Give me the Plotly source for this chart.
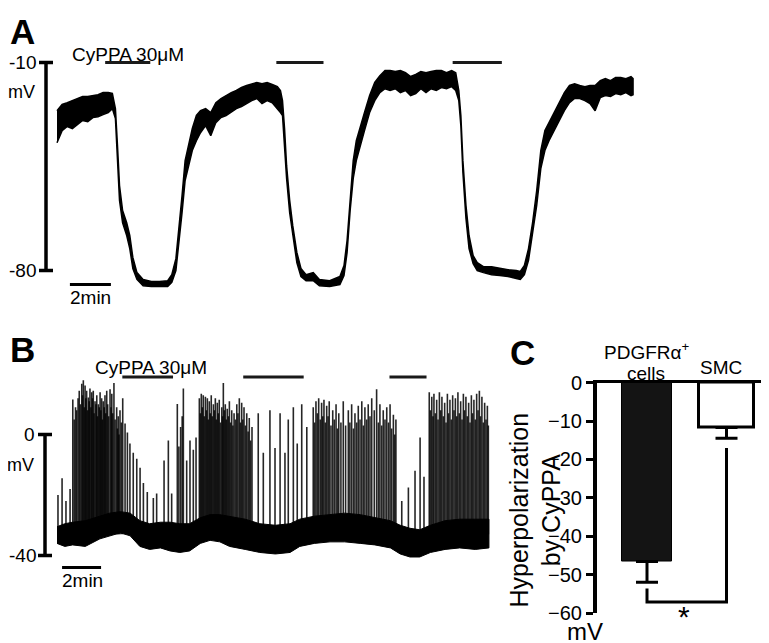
import plotly.graph_objects as go

W, H = 769, 643
FONT = "Liberation Sans, Arial, sans-serif"

# ---- Panel A: PDGFRa+ cell membrane potential (time in min, mV) ----
a_time = [0, 0.25, 0.5, 0.75, 1.0, 1.25, 1.5, 1.75, 2.0, 2.25, 2.5, 2.7,
          2.85, 2.95, 3.05, 3.2, 3.4, 3.55, 3.7, 3.9, 4.2, 4.6, 5.0, 5.4, 5.6, 5.8, 5.95, 6.1, 6.25, 6.4, 6.6, 6.8,
          7.0, 7.25, 7.5, 7.75, 8.0, 8.25, 8.5, 8.75, 9.0, 9.25, 9.5, 9.75, 10.0, 10.25, 10.5, 10.75, 10.9,
          11.0, 11.1, 11.2, 11.35, 11.5, 11.7, 11.9, 12.15, 12.5, 12.8, 13.3, 13.8, 14.0, 14.15, 14.3, 14.45, 14.6, 14.8,
          15.0, 15.25, 15.5, 15.75, 16.0, 16.25, 16.5, 16.75, 17.0, 17.25, 17.5, 17.75, 18.0, 18.25, 18.5, 18.75, 19.0, 19.25, 19.45,
          19.6, 19.7, 19.8, 19.95, 20.1, 20.3, 20.5, 20.8, 21.2, 21.6, 22.0, 22.4, 22.6, 22.8, 23.0, 23.2, 23.4, 23.6, 23.8,
          24.0, 24.25, 24.5, 24.75, 25.0, 25.25, 25.5, 25.75, 26.0, 26.25, 26.5, 26.75, 27.0, 27.25, 27.5, 27.75, 28.0, 28.1]
a_upper = [-26.2, -24.1, -23.5, -22.8, -22.1, -21.4, -21.4, -21.1, -20.8, -20.1, -20.1, -20.4,
           -25.5, -37.9, -51.4, -59.8, -63.9, -68.2, -75.6, -80.7, -83.0, -83.7, -83.7, -83.4, -81.4, -76.0, -65.9, -54.8, -43.0, -37.9, -32.2, -27.8,
           -26.2, -25.5, -26.8, -23.5, -22.1, -21.1, -20.1, -19.4, -18.4, -17.7, -17.1, -16.7, -17.1, -16.7, -17.4, -18.1, -19.4,
           -22.8, -32.2, -44.7, -56.4, -64.9, -73.9, -79.3, -81.4, -80.7, -83.0, -83.4, -82.0, -78.3, -69.9, -54.8, -43.0, -36.3, -31.2,
           -26.8, -21.1, -16.7, -14.4, -12.7, -12.7, -13.0, -12.7, -13.4, -14.7, -14.0, -13.0, -13.4, -13.0, -12.7, -12.7, -13.4, -12.7, -13.4,
           -19.4, -27.8, -43.0, -58.1, -68.2, -75.0, -77.3, -78.7, -78.7, -79.3, -79.7, -80.0, -80.3, -78.3, -72.6, -63.9, -53.1, -39.6, -32.9,
           -30.2, -26.8, -23.5, -20.1, -17.7, -17.1, -17.7, -18.1, -17.7, -17.7, -16.1, -15.4, -16.1, -15.0, -15.0, -15.4, -14.7, -15.4]
a_lower = [-37.0, -32.9, -31.5, -32.2, -30.9, -29.5, -29.9, -28.5, -28.2, -27.5, -26.8, -25.5,
           -28.8, -43.0, -56.4, -63.9, -68.2, -72.6, -79.3, -83.0, -85.1, -85.4, -85.4, -85.4, -84.0, -80.0, -71.6, -60.5, -49.7, -45.7, -39.6, -36.3,
           -33.6, -31.2, -34.6, -30.2, -28.5, -27.8, -26.8, -25.5, -24.8, -23.8, -22.8, -22.1, -23.8, -22.8, -23.5, -25.5, -26.8,
           -27.8, -36.3, -49.0, -60.5, -68.6, -77.3, -82.0, -83.4, -83.4, -85.1, -85.4, -84.7, -81.7, -74.0, -59.8, -49.0, -43.0, -37.9,
           -32.9, -26.8, -22.8, -20.1, -18.8, -19.4, -18.8, -20.1, -19.4, -21.1, -20.4, -18.8, -20.1, -18.8, -19.4, -18.4, -18.8, -18.1, -19.4,
           -22.8, -31.2, -47.0, -62.5, -72.6, -77.7, -80.0, -80.7, -81.4, -81.7, -82.0, -82.7, -83.0, -81.4, -76.6, -68.2, -58.1, -45.7, -39.6,
           -36.3, -32.9, -29.5, -26.2, -23.5, -22.1, -22.1, -22.8, -23.8, -26.2, -21.8, -21.1, -21.4, -20.4, -20.8, -20.1, -21.1, -20.8]
a_drug_on = [2.35, 10.7, 19.3]
a_drug_off = [4.55, 13.0, 21.7]
a_drug_level = -10

# ---- Panel B: SMC membrane potential (baseline band + spikes) ----
b_time = [0, 0.4, 0.8, 1.45, 2.2, 2.7, 3.25, 3.75, 4.25, 4.75, 5.3, 5.8, 6.3, 6.8, 7.35, 7.85, 8.35, 8.85, 9.65, 10.4,
          11.2, 11.95, 12.45, 13.2, 14.0, 14.75, 15.55, 16.3, 17.1, 17.6, 18.1, 18.6, 19.15, 19.9, 20.65, 21.45, 22.15]
b_upper = [-30.5, -29.5, -29, -28.5, -27, -26, -25.5, -26, -28.5, -29.5, -29, -29, -29.5, -29.5, -27.5, -26.5, -26.5, -27, -28, -29.5,
           -30, -29.5, -28, -27, -26.5, -26, -26.5, -27.5, -28.5, -30, -31, -31.5, -30, -28.5, -28, -28, -28]
b_lower = [-36, -37, -36.5, -37, -34.5, -33.5, -32.5, -33.5, -37, -38, -37.5, -38.5, -39, -38.5, -36, -35, -35.5, -37, -38, -39,
           -39.5, -39, -37, -36, -35.5, -35.5, -36, -36.5, -37.5, -39.5, -40.5, -40.5, -39, -38, -37.5, -38, -37.5]
spike_time = [0.05, 0.26, 0.46, 0.67,
              0.81, 1.01, 1.14, 1.27, 1.35, 1.44, 1.52, 1.61, 1.69, 1.78, 1.86, 1.95, 2.04, 2.12, 2.21, 2.29, 2.37, 2.46,
              2.55, 2.72, 2.81, 2.92, 3.06, 3.14, 3.23, 3.37, 3.49, 3.61, 3.74, 3.91, 4.09, 4.26, 4.43, 4.63, 4.94, 5.11,
              5.49, 5.71, 5.88,
              6.17, 6.34, 6.48, 6.65, 6.82, 6.99, 7.13,
              7.30, 7.40, 7.50, 7.61, 7.71, 7.81, 7.91, 8.02, 8.12, 8.22, 8.32, 8.45, 8.53, 8.63, 8.73, 8.84, 8.96, 9.08,
              9.22, 9.35, 9.47, 9.59, 9.73, 9.86, 10.0,
              10.32, 10.58, 10.92, 11.18, 11.44, 11.69, 11.86, 12.12, 12.32, 12.55, 12.81,
              13.14, 13.28, 13.42, 13.57, 13.69, 13.83, 13.96, 14.14, 14.31, 14.45, 14.68, 14.94, 15.11, 15.28, 15.45,
              15.63, 15.79, 15.96, 16.14, 16.39, 16.56, 16.73, 16.91, 17.08, 17.25, 17.38,
              17.68, 18.02, 18.36, 18.62, 18.82,
              19.09, 19.22, 19.33, 19.47, 19.61, 19.74, 19.88, 20.02, 20.15, 20.29, 20.43, 20.56, 20.70, 20.84, 20.97,
              21.11, 21.25, 21.38, 21.52, 21.66, 21.79, 21.93, 22.07]
spike_peak = [-20, -14.5, -22, -18,
              11.6, 8, 14.5, 16.8, 17.9, 16.2, 14.5, 12.2, 15.2, 14, 14.5, 11, 13, 10, 14, 12, 11, 13,
              14.5, 15, 13.5, 17, 9, 6, 8, 12, 3.6, 0.7, -3, -6, -8, -11, -16, -19, -21, -19.5,
              -8.6, -2, -19.5,
              10.1, 2.5, 15.2, -8.6, -2, -5, -1,
              12, 13.5, 13, 12.5, 12, 11, 13, 10, 12, 10.5, 11.5, 9, 17, 10, 8.5, 11, 8, 7,
              10, 12, 10.5, 9, 7, 5.5, 2.5,
              7, -6, 8, -4.5, 7, -6, 5, 9, -3, 10, 2.5,
              9, 11, 12, 10.5, 11.5, 9.5, 11, 8, 10, 7, 11, 8, 10, 7, 9.5,
              11, 9, 10, 12, 15, 10, 8, 9, 10, 6.5, 5,
              -22, -17.5, -12, -1, -14,
              14, 12.5, 13.5, 11.5, 14, 12.5, 10.5, 13.5, 11.5, 13, 12, 14, 11, 13.5, 12.5,
              10.5, 13, 11.5, 13.5, 14.5, 12.5, 10.5, 9.5]
# smaller spikes packed between the tall ones inside the bursts
small_spike_time = [0.88, 0.95, 1.08, 1.2, 1.31, 1.4, 1.48, 1.57, 1.65, 1.74, 1.82, 1.9, 2.0, 2.08, 2.17, 2.25,
                    2.33, 2.42, 2.5, 2.6, 2.65, 2.77, 2.86, 2.98, 3.1, 3.18, 3.3,
                    6.25, 6.42,
                    7.35, 7.45, 7.55, 7.66, 7.76, 7.86, 7.96, 8.07, 8.17, 8.27, 8.38, 8.49, 8.58, 8.68, 8.79, 8.9,
                    9.02, 9.15, 9.28, 9.41, 9.53, 9.66, 9.8, 9.93,
                    13.21, 13.35, 13.5, 13.63, 13.76, 13.9, 14.05, 14.22, 14.38, 14.56, 14.8, 15.02, 15.2, 15.37,
                    15.54, 15.71, 15.88, 16.05, 16.27, 16.48, 16.65, 16.82, 17.0, 17.16, 17.32,
                    19.15, 19.28, 19.4, 19.54, 19.68, 19.81, 19.95, 20.08, 20.22, 20.36, 20.5, 20.63, 20.77, 20.9,
                    21.04, 21.18, 21.31, 21.45, 21.59, 21.72, 21.86, 22.0, 22.12]
small_spike_peak = [5, 9, 12, 10, 13, 9, 12, 8, 11, 9, 12, 7, 10, 6, 9, 8,
                    5, 9, 7, 10, 6, 9, 7, 5, 2, 0, 4,
                    -4, 6,
                    7, 9, 6, 8, 5, 7, 6, 8, 5, 7, 4, 6, 8, 5, 6, 4,
                    3, 5, 7, 4, 5, 3, 1, -2,
                    4, 7, 5, 6, 4, 6, 3, 5, 2, 4, 3, 4, 2, 4,
                    5, 3, 5, 6, 8, 4, 3, 5, 4, 2, 0,
                    8, 6, 7, 5, 8, 6, 4, 7, 5, 8, 6, 7, 5, 8,
                    6, 4, 7, 5, 8, 6, 4, 5, 3]
spike_foot = -33
b_drug_on = [3.35, 9.55, 17.05]
b_drug_off = [5.95, 12.65, 18.95]
b_drug_level = 19

# ---- Panel C: hyperpolarization by CyPPA (mean, SEM) ----
groups = ["PDGFRα<sup>+</sup>", "SMC"]
hyperpol = [-46.5, -11.7]
sem = [5.4, 2.8]
bracket_y = -57
bracket_tops = [-53.5, -17]

# the photographed page sits a little off the svg origin: measured offset/scale
OFF_X, OFF_Y, SCALE_Y = 8, 18.4, 0.966


def rx(p):
    """target-image pixel x -> paper x"""
    return (p - OFF_X) / W


def ry(p):
    """target-image pixel y -> paper y"""
    return 1 - (p - OFF_Y) / SCALE_Y / H


def lin_range(p0, v0, p1, v1, lo, hi):
    """Values at pixel lo/hi given two pixel->value calibration points."""
    s = (v1 - v0) / (p1 - p0)
    return [v0 + (lo - p0) * s, v0 + (hi - p0) * s]


def note(text, x, y, size=19, xanchor="center", bold=False, angle=0):
    return dict(text=f"<b>{text}</b>" if bold else text, x=rx(x), y=ry(y),
                xref="paper", yref="paper", xanchor=xanchor, yanchor="middle",
                showarrow=False, textangle=angle,
                font=dict(family=FONT, size=size, color="black"))


def bars(on, off, level):
    xs, ys = [], []
    for a, b in zip(on, off):
        xs += [a, b, None]
        ys += [level, level, None]
    return xs, ys


fig = go.Figure()

# panel A trace (noise band)
fig.add_trace(go.Scatter(x=a_time + a_time[::-1], y=a_upper + a_lower[::-1],
                         fill="toself", fillcolor="black", mode="lines",
                         line=dict(color="black", width=1.5), xaxis="x", yaxis="y"))
dx, dy = bars(a_drug_on, a_drug_off, a_drug_level)
fig.add_trace(go.Scatter(x=dx, y=dy, mode="lines", line=dict(color="#1a1a1a", width=3),
                         xaxis="x", yaxis="y"))

# panel B trace
fig.add_trace(go.Scatter(x=b_time + b_time[::-1], y=b_upper + b_lower[::-1],
                         fill="toself", fillcolor="black", mode="lines",
                         line=dict(color="black", width=1), xaxis="x2", yaxis="y2"))
sx, sy = [], []
for t, p in zip(spike_time + small_spike_time, spike_peak + small_spike_peak):
    sx += [t, t, None]
    sy += [spike_foot, p, None]
fig.add_trace(go.Scatter(x=sx, y=sy, mode="lines", line=dict(color="rgba(0,0,0,0.85)", width=1.6),
                         xaxis="x2", yaxis="y2"))
dx, dy = bars(b_drug_on, b_drug_off, b_drug_level)
fig.add_trace(go.Scatter(x=dx, y=dy, mode="lines", line=dict(color="#1a1a1a", width=3),
                         xaxis="x2", yaxis="y2"))

# panel C bars
pos = list(range(len(groups)))
fig.add_trace(go.Bar(x=pos, y=hyperpol, width=[0.63, 0.70],
                     marker=dict(color=["#141414", "white"], line=dict(color="black", width=[1, 3])),
                     error_y=dict(type="data", symmetric=False, array=[0, 0], arrayminus=sem,
                                  color="black", thickness=3, width=11),
                     xaxis="x3", yaxis="y3"))
fig.add_trace(go.Scatter(x=[pos[0], pos[0], pos[1], pos[1]],
                         y=[bracket_tops[0], bracket_y, bracket_y, bracket_tops[1]],
                         mode="lines", line=dict(color="black", width=3),
                         xaxis="x3", yaxis="y3", cliponaxis=False))

hidden = dict(visible=False, showgrid=False, zeroline=False)
fig.update_layout(
    width=W, height=H, margin=dict(l=0, r=0, t=0, b=0),
    paper_bgcolor="white", plot_bgcolor="white", showlegend=False,
    font=dict(family=FONT, color="black"),
    # panel A: t=0 at px 57, 2 min = 41 px ; -10 mV at px 62, -80 mV at px 270
    xaxis=dict(hidden, domain=[rx(8), rx(650)], range=lin_range(57, 0, 98, 2, 8, 650)),
    yaxis=dict(hidden, domain=[ry(300), ry(OFF_Y)], range=lin_range(62, -10, 270, -80, 300, OFF_Y)),
    # panel B: 2 min = 39 px ; 0 mV at px 434, -40 mV at px 555
    xaxis2=dict(hidden, domain=[rx(8), rx(495)], range=lin_range(57, 0, 96, 2, 8, 495)),
    yaxis2=dict(hidden, domain=[ry(600), ry(300)], range=lin_range(434, 0, 555, -40, 600, 300)),
    # panel C
    xaxis3=dict(domain=[rx(597), 1], range=lin_range(647, 0, 726.5, 1, 597, W + OFF_X),
                side="top", showline=True, linecolor="black", linewidth=3,
                showticklabels=False, ticks="", showgrid=False, zeroline=False, anchor="y3"),
    yaxis3=dict(domain=[ry(613), ry(382)], range=[-60, 0],
                showline=True, linecolor="black", linewidth=4,
                ticks="outside", ticklen=7, tickwidth=3, tickcolor="black",
                tickvals=[0, -10, -20, -30, -40, -50, -60],
                tickfont=dict(family=FONT, size=20, color="black"),
                showgrid=False, zeroline=False, anchor="x3"),
    bargap=0,
)

line = dict(color="black", width=3.5)
shapes = [
    # A mV scale bar
    dict(type="line", xref="paper", yref="y", x0=rx(46), x1=rx(46), y0=-10, y1=-80, line=line),
    dict(type="line", xref="paper", yref="y", x0=rx(39), x1=rx(53), y0=-10, y1=-10, line=line),
    dict(type="line", xref="paper", yref="y", x0=rx(39), x1=rx(53), y0=-80, y1=-80, line=line),
    # A time scale bar
    dict(type="line", xref="x", yref="paper", x0=0.63, x1=2.63, y0=ry(284), y1=ry(284),
         line=dict(color="black", width=3)),
    # B mV scale bar
    dict(type="line", xref="paper", yref="y2", x0=rx(45), x1=rx(45), y0=0, y1=-40, line=line),
    dict(type="line", xref="paper", yref="y2", x0=rx(38), x1=rx(52), y0=0, y1=0, line=line),
    dict(type="line", xref="paper", yref="y2", x0=rx(38), x1=rx(52), y0=-40, y1=-40, line=line),
    # B time scale bar
    dict(type="line", xref="x2", yref="paper", x0=0.26, x1=2.26, y0=ry(567), y1=ry(567),
         line=dict(color="black", width=3)),
]
fig.update_layout(shapes=shapes)

annotations = [
    note("A", 22, 31, size=35, bold=True),
    note("-10", 38, 62, xanchor="right"),
    note("mV", 37, 91, size=18, xanchor="right"),
    note("-80", 38, 270, xanchor="right"),
    note("CyPPA 30μM", 70, 54, xanchor="left"),
    note("2min", 90, 297),
    note("B", 22, 349, size=35, bold=True),
    note("0", 37, 434, xanchor="right"),
    note("mV", 36, 464, size=18, xanchor="right"),
    note("-40", 38, 555, xanchor="right"),
    note("CyPPA 30μM", 93, 367, xanchor="left"),
    note("2min", 82, 580),
    note("C", 522, 352, size=35, bold=True),
    note("Hyperpolarization<br>by CyPPA", 535, 510, size=25, angle=-90),
    note("mV", 585, 631, size=24),
    note(groups[0], 646, 350),
    note("cells", 646, 373),
    note(groups[1], 721, 367),
    note("*", 684, 616, size=30),
]
fig.update_layout(annotations=annotations)

fig.write_html("out.html")
